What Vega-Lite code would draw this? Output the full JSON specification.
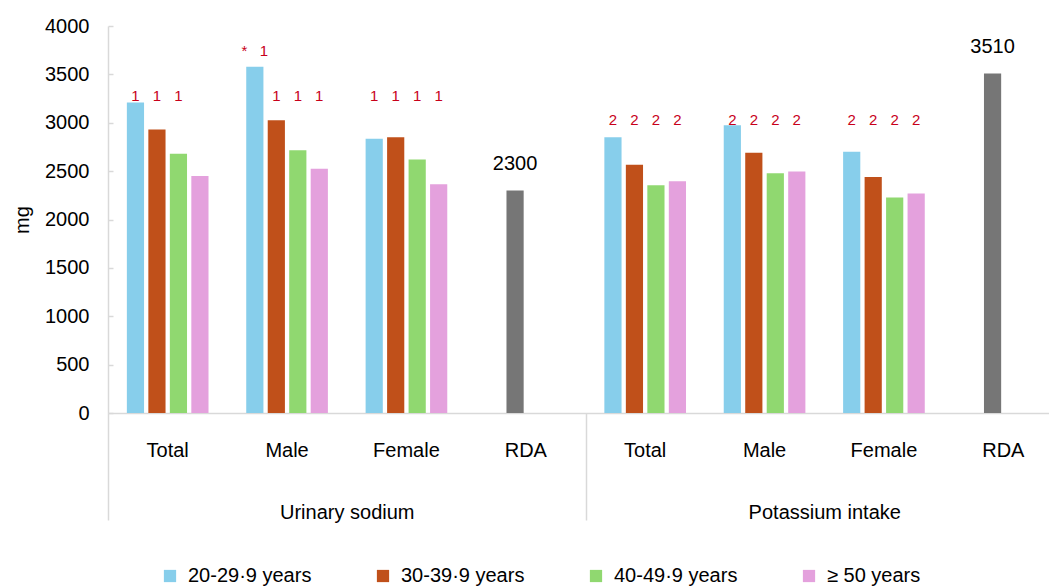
{
  "$schema": "https://vega.github.io/schema/vega-lite/v6.json",
  "width": 941,
  "height": 387,
  "autosize": {"type": "none"},
  "padding": {"left": 108, "top": 26, "right": 0, "bottom": 173},
  "background": "white",
  "config": {"view": {"stroke": null}, "font": "Liberation Sans", "axis": {"grid": false}},
  "data": {
    "values": [
      {"group": "Urinary sodium", "cat": "Total", "key": "Urinary sodium|Total", "series": "20-29·9 years", "slot": "20-29·9 years", "value": 3210, "note": "1"},
      {"group": "Urinary sodium", "cat": "Total", "key": "Urinary sodium|Total", "series": "30-39·9 years", "slot": "30-39·9 years", "value": 2930, "note": "1"},
      {"group": "Urinary sodium", "cat": "Total", "key": "Urinary sodium|Total", "series": "40-49·9 years", "slot": "40-49·9 years", "value": 2680, "note": "1"},
      {"group": "Urinary sodium", "cat": "Total", "key": "Urinary sodium|Total", "series": "≥ 50 years", "slot": "≥ 50 years", "value": 2450, "note": ""},
      {"group": "Urinary sodium", "cat": "Male", "key": "Urinary sodium|Male", "series": "20-29·9 years", "slot": "20-29·9 years", "value": 3580, "note": "*\u00a0\u00a0\u00a01"},
      {"group": "Urinary sodium", "cat": "Male", "key": "Urinary sodium|Male", "series": "30-39·9 years", "slot": "30-39·9 years", "value": 3025, "note": "1"},
      {"group": "Urinary sodium", "cat": "Male", "key": "Urinary sodium|Male", "series": "40-49·9 years", "slot": "40-49·9 years", "value": 2715, "note": "1"},
      {"group": "Urinary sodium", "cat": "Male", "key": "Urinary sodium|Male", "series": "≥ 50 years", "slot": "≥ 50 years", "value": 2525, "note": "1"},
      {"group": "Urinary sodium", "cat": "Female", "key": "Urinary sodium|Female", "series": "20-29·9 years", "slot": "20-29·9 years", "value": 2835, "note": "1"},
      {"group": "Urinary sodium", "cat": "Female", "key": "Urinary sodium|Female", "series": "30-39·9 years", "slot": "30-39·9 years", "value": 2850, "note": "1"},
      {"group": "Urinary sodium", "cat": "Female", "key": "Urinary sodium|Female", "series": "40-49·9 years", "slot": "40-49·9 years", "value": 2620, "note": "1"},
      {"group": "Urinary sodium", "cat": "Female", "key": "Urinary sodium|Female", "series": "≥ 50 years", "slot": "≥ 50 years", "value": 2365, "note": "1"},
      {"group": "Urinary sodium", "cat": "RDA", "key": "Urinary sodium|RDA", "series": "RDA", "slot": "30-39·9 years", "value": 2300, "note": ""},
      {"group": "Potassium intake", "cat": "Total", "key": "Potassium intake|Total", "series": "20-29·9 years", "slot": "20-29·9 years", "value": 2850, "note": "2"},
      {"group": "Potassium intake", "cat": "Total", "key": "Potassium intake|Total", "series": "30-39·9 years", "slot": "30-39·9 years", "value": 2565, "note": "2"},
      {"group": "Potassium intake", "cat": "Total", "key": "Potassium intake|Total", "series": "40-49·9 years", "slot": "40-49·9 years", "value": 2355, "note": "2"},
      {"group": "Potassium intake", "cat": "Total", "key": "Potassium intake|Total", "series": "≥ 50 years", "slot": "≥ 50 years", "value": 2395, "note": "2"},
      {"group": "Potassium intake", "cat": "Male", "key": "Potassium intake|Male", "series": "20-29·9 years", "slot": "20-29·9 years", "value": 2975, "note": "2"},
      {"group": "Potassium intake", "cat": "Male", "key": "Potassium intake|Male", "series": "30-39·9 years", "slot": "30-39·9 years", "value": 2690, "note": "2"},
      {"group": "Potassium intake", "cat": "Male", "key": "Potassium intake|Male", "series": "40-49·9 years", "slot": "40-49·9 years", "value": 2478, "note": "2"},
      {"group": "Potassium intake", "cat": "Male", "key": "Potassium intake|Male", "series": "≥ 50 years", "slot": "≥ 50 years", "value": 2495, "note": "2"},
      {"group": "Potassium intake", "cat": "Female", "key": "Potassium intake|Female", "series": "20-29·9 years", "slot": "20-29·9 years", "value": 2700, "note": "2"},
      {"group": "Potassium intake", "cat": "Female", "key": "Potassium intake|Female", "series": "30-39·9 years", "slot": "30-39·9 years", "value": 2440, "note": "2"},
      {"group": "Potassium intake", "cat": "Female", "key": "Potassium intake|Female", "series": "40-49·9 years", "slot": "40-49·9 years", "value": 2228, "note": "2"},
      {"group": "Potassium intake", "cat": "Female", "key": "Potassium intake|Female", "series": "≥ 50 years", "slot": "≥ 50 years", "value": 2268, "note": "2"},
      {"group": "Potassium intake", "cat": "RDA", "key": "Potassium intake|RDA", "series": "RDA", "slot": "30-39·9 years", "value": 3510, "note": ""}
    ]
  },
  "layer": [
    {
      "encoding": {
        "x": {
          "field": "key",
          "type": "nominal",
          "sort": ["Urinary sodium|Total", "Urinary sodium|Male", "Urinary sodium|Female", "Urinary sodium|RDA", "Potassium intake|Total", "Potassium intake|Male", "Potassium intake|Female", "Potassium intake|RDA"],
          "scale": {"range": [0, 955], "paddingInner": 0.28, "paddingOuter": 0.14},
          "axis": {
            "orient": "bottom",
            "title": null,
            "labelExpr": "split(datum.label, '|')[1]",
            "labelAngle": 0,
            "labelFontSize": 20,
            "labelColor": "black",
            "ticks": false,
            "labelPadding": 27,
            "domainColor": "#d9d9d9",
            "domainWidth": 1.5
          }
        },
        "xOffset": {
          "field": "slot",
          "type": "nominal",
          "sort": ["20-29·9 years", "30-39·9 years", "40-49·9 years", "≥ 50 years"],
          "scale": {"paddingInner": 0.2, "paddingOuter": 0.1}
        }
      },
      "layer": [
        {
          "mark": {"type": "bar"},
          "encoding": {
            "y": {
              "field": "value",
              "type": "quantitative",
              "scale": {"domain": [0, 4000], "nice": false},
              "axis": {
                "title": "mg",
                "titleFontSize": 20,
                "titleFontWeight": "normal",
                "titleColor": "black",
                "titlePadding": 12,
                "values": [0, 500, 1000, 1500, 2000, 2500, 3000, 3500, 4000],
                "format": "d",
                "labelFontSize": 20,
                "labelColor": "black",
                "tickSize": -5,
                "labelPadding": 24,
                "tickColor": "#d9d9d9",
                "tickWidth": 1.5,
                "domainColor": "#d9d9d9",
                "domainWidth": 1.5
              }
            },
            "color": {
              "field": "series",
              "type": "nominal",
              "scale": {
                "domain": ["20-29·9 years", "30-39·9 years", "40-49·9 years", "≥ 50 years", "RDA"],
                "range": ["#87CEEB", "#C0501A", "#90D870", "#E4A1DD", "#767676"]
              },
              "legend": {
                "orient": "none",
                "legendX": 52,
                "legendY": 540,
                "direction": "horizontal",
                "title": null,
                "values": ["20-29·9 years", "30-39·9 years", "40-49·9 years", "≥ 50 years"],
                "symbolType": "square",
                "symbolSize": 150,
                "symbolStrokeWidth": 0,
                "labelFontSize": 20,
                "labelColor": "black",
                "labelOffset": 8,
                "columnPadding": 61,
                "labelLimit": 300
              }
            }
          }
        },
        {
          "transform": [{"filter": "datum.note == '1'"}],
          "mark": {"type": "text", "color": "#c8001a", "fontSize": 15, "baseline": "alphabetic", "align": "center"},
          "encoding": {"y": {"datum": 3225}, "text": {"field": "note"}}
        },
        {
          "transform": [{"filter": "length(datum.note) > 1"}],
          "mark": {"type": "text", "color": "#c8001a", "fontSize": 15, "baseline": "alphabetic", "align": "center"},
          "encoding": {"y": {"datum": 3690}, "text": {"field": "note"}}
        },
        {
          "transform": [{"filter": "datum.note == '2'"}],
          "mark": {"type": "text", "color": "#c8001a", "fontSize": 15, "baseline": "alphabetic", "align": "center"},
          "encoding": {"y": {"datum": 2980}, "text": {"field": "note"}}
        },
        {
          "transform": [{"filter": "datum.series == 'RDA'"}],
          "mark": {"type": "text", "color": "black", "fontSize": 20, "baseline": "alphabetic", "align": "center", "dy": -20},
          "encoding": {"y": {"field": "value", "type": "quantitative"}, "text": {"field": "value", "type": "quantitative"}}
        }
      ]
    },
    {
      "mark": {"type": "point", "opacity": 0},
      "encoding": {
        "x": {
          "field": "group",
          "type": "nominal",
          "sort": ["Urinary sodium", "Potassium intake"],
          "scale": {"range": [0, 955], "paddingInner": 0, "paddingOuter": 0},
          "axis": {
            "orient": "bottom",
            "title": null,
            "labelAngle": 0,
            "labelFontSize": 20,
            "labelColor": "black",
            "domain": false,
            "ticks": true,
            "tickBand": "extent",
            "tickSize": 107,
            "tickColor": "#d9d9d9",
            "tickWidth": 1.5,
            "labelPadding": -18
          }
        }
      }
    }
  ],
  "resolve": {"scale": {"x": "independent"}}
}
